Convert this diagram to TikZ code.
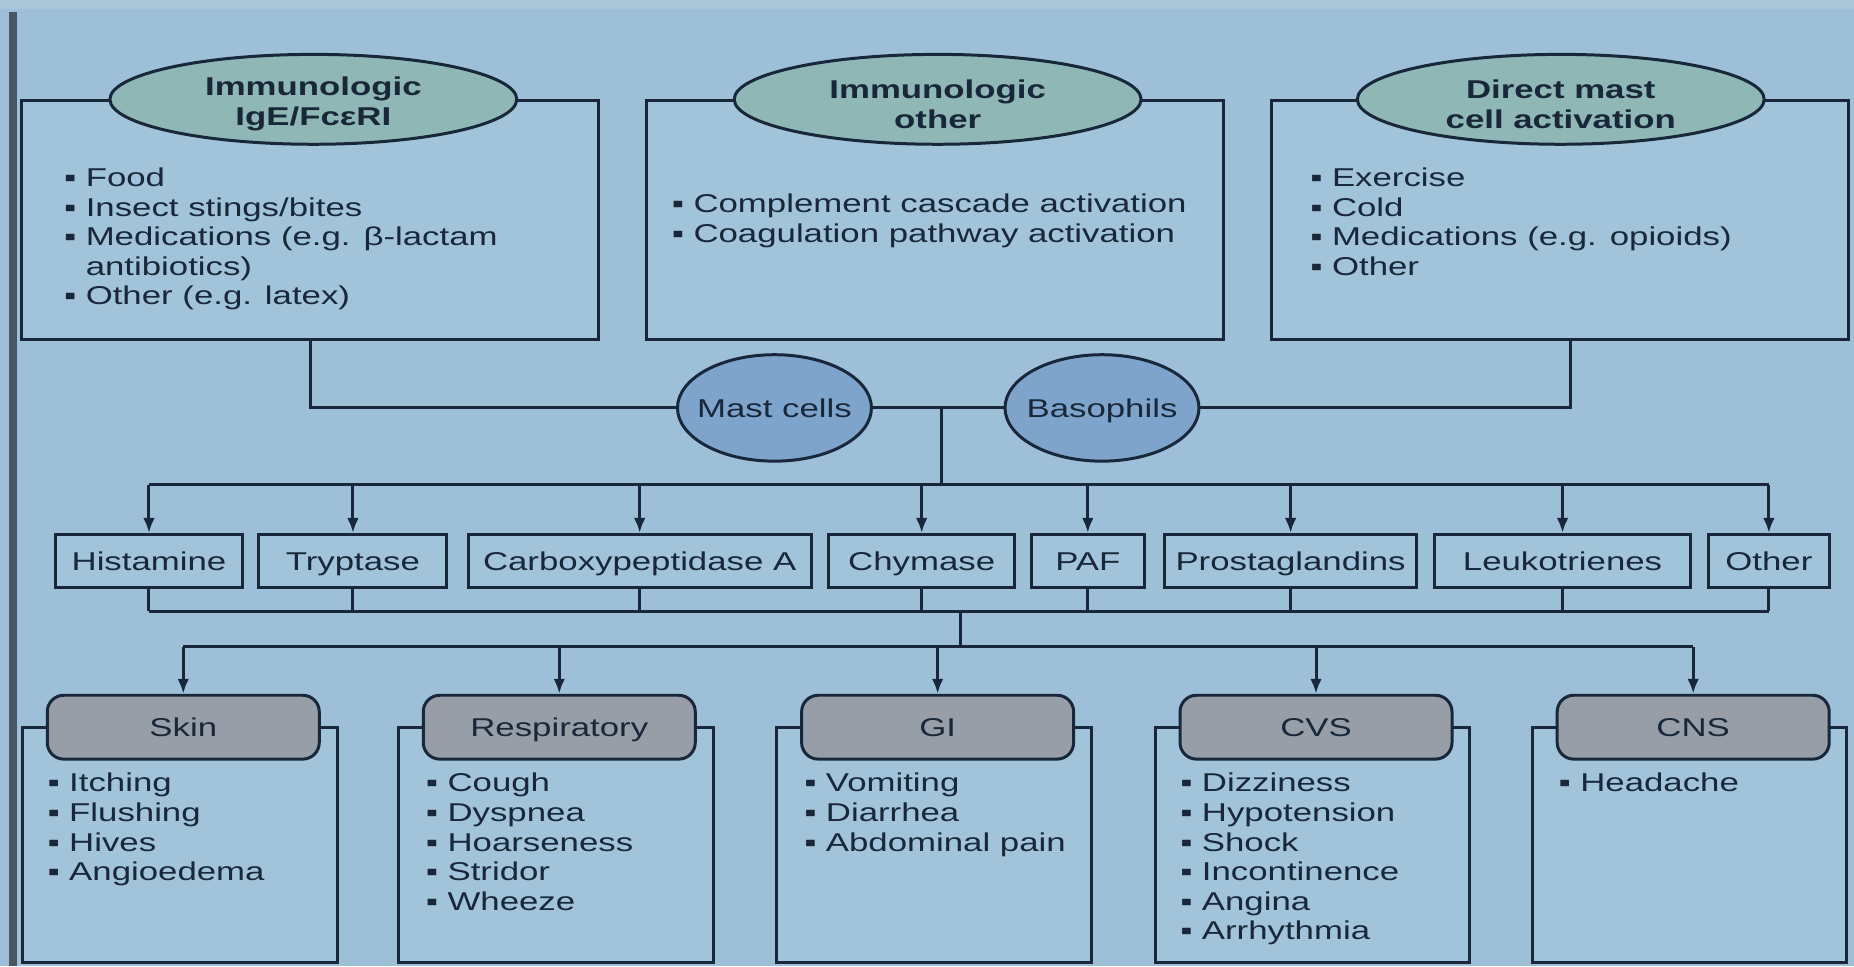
\documentclass[tikz,border=0pt]{standalone}
\usepackage{fontspec}
\setmainfont{Liberation Sans}[FakeStretch=1.35]
\usepackage{xcolor}
\usetikzlibrary{arrows,arrows.meta,positioning,calc,shapes}

\definecolor{bgblue}{RGB}{157,192,216}
\definecolor{topband}{RGB}{170,197,215}
\definecolor{panelblue}{RGB}{162,196,219}
\definecolor{inkdark}{RGB}{24,40,58}
\definecolor{ovalteal}{RGB}{143,183,181}
\definecolor{cellblue}{RGB}{126,164,204}
\definecolor{organgrey}{RGB}{152,158,167}
\definecolor{sidebar}{RGB}{72,86,96}

\newcommand{\dotitem}{\strut\makebox[13pt][l]{▪}}
\newcommand{\dothang}{\strut\makebox[13pt][l]{}}

\tikzset{
  basefont/.style={font=\fontsize{15.5}{17.8}\selectfont},
  inkline/.style={draw=inkdark, line width=1.8pt},
  srcbox/.style={inkline, fill=panelblue, minimum width=12.2cm, minimum height=5.05cm},
  srcoval/.style={ellipse, inkline, fill=ovalteal, minimum width=8.6cm, minimum height=1.9cm,
    inner sep=0pt},
  ovaltext/.style={align=center, text=inkdark, font=\fontsize{15.5}{17.8}\selectfont\bfseries,
    yshift=-0.1cm},
  cell/.style={ellipse, inkline, fill=cellblue, minimum width=4.1cm, minimum height=2.25cm,
    inner sep=0pt},
  celltext/.style={text=inkdark, basefont, text height=11.5pt, text depth=0.5pt},
  medbox/.style={rectangle, inkline, fill=panelblue, minimum height=1.125cm, inner sep=0pt,
    text=inkdark, basefont, text height=11.5pt, text depth=0.5pt},
  organbox/.style={rectangle, inkline, fill=panelblue, minimum width=6.65cm, minimum height=4.975cm},
  organhead/.style={rectangle, rounded corners=0.35cm, inkline, fill=organgrey,
    minimum width=5.75cm, minimum height=1.35cm, text=inkdark, basefont,
    text height=11.5pt, text depth=0.5pt},
  list/.style={anchor=north west, inner sep=0pt, align=left, text=inkdark, basefont},
  wire/.style={draw=inkdark, line width=1.8pt},
  flow/.style={wire, -{Latex[length=9pt,width=7pt]}}
}

\begin{document}
\begin{tikzpicture}[x=0.025cm, y=-0.025cm]
% Background
\useasboundingbox (0,0) rectangle (1568,817);
\fill[bgblue] (0,0) rectangle (1568,817);
\fill[topband] (0,0) rectangle (1568,8);
\fill[sidebar] (8,10) rectangle (14,817);

% Trigger panels
\node[srcbox] (igebox) at (262.5,186) {};
\node[srcbox] (othbox) at (791,186) {};
\node[srcbox] (dirbox) at (1319,186) {};
\node[srcoval, label={[ovaltext]center:Immunologic\\IgE/FcεRI}] (ige) at (265,84) {};
\node[srcoval, label={[ovaltext]center:Immunologic\\other}] (oth) at (793,84) {};
\node[srcoval, label={[ovaltext]center:Direct mast\\cell activation}] (dir) at (1320,84) {};

\node[list] (igelist) at (54,140) {\dotitem Food\\\dotitem Insect stings/bites\\\dotitem Medications (e.g. β-lactam\\\dothang antibiotics)\\\dotitem Other (e.g. latex)};
\node[list] (othlist) at (568,162) {\dotitem Complement cascade activation\\\dotitem Coagulation pathway activation};
\node[list] (dirlist) at (1108,140) {\dotitem Exercise\\\dotitem Cold\\\dotitem Medications (e.g. opioids)\\\dotitem Other};

% Effector cells
\node[cell, label={[celltext]center:Mast cells}] (mast) at (655,345) {};
\node[cell, label={[celltext]center:Basophils}] (baso) at (932,345) {};
\draw[wire] (igebox.south) |- (mast.west);
\draw[wire] (mast.east) -- (baso.west);
\draw[wire] ($(dirbox.south)+(9,0)$) |- (baso.east);

% Mediators
\foreach \n/\x/\w/\lab in {hist/126/158/Histamine, tryp/298.5/159/Tryptase,
    cpa/541/290/Carboxypeptidase A, chym/779.5/157/Chymase, paf/920/96/PAF,
    pgs/1091.5/213/Prostaglandins, lts/1321.5/217/Leukotrienes, moth/1496/102/Other}
  \node[medbox, minimum width=\w*0.025cm] (\n) at (\x,474.5) {\lab};

\coordinate (busa) at (796,410);
\draw[wire] (busa |- mast.east) -- (busa);
\draw[wire] (hist.north |- busa) -- (moth.north |- busa);
\foreach \n in {hist,tryp,cpa,chym,paf,pgs,lts,moth}
  \draw[flow] (\n.north |- busa) -- (\n.north);

\coordinate (busb) at (812,517);
\coordinate (busc) at (812,547);
\foreach \n in {hist,tryp,cpa,chym,paf,pgs,lts,moth}
  \draw[wire] (\n.south) -- (\n.south |- busb);
\draw[wire] (hist.south |- busb) -- (moth.south |- busb);
\draw[wire] (busb) -- (busc);

% Organ systems
\foreach \n/\x/\lab in {skin/155/Skin, resp/473/Respiratory, gi/793/GI, cvs/1113/CVS, cns/1432/CNS}{
  \node[organbox] (\n-body) at (\x-3,714.5) {};
  \node[organhead] (\n) at (\x,615) {\lab};
}
\draw[wire] (skin.north |- busc) -- (cns.north |- busc);
\foreach \n in {skin,resp,gi,cvs,cns}
  \draw[flow] (\n.north |- busc) -- (\n.north);

\node[list] (skinlist) at (40,652) {\dotitem Itching\\\dotitem Flushing\\\dotitem Hives\\\dotitem Angioedema};
\node[list] (resplist) at (360,652) {\dotitem Cough\\\dotitem Dyspnea\\\dotitem Hoarseness\\\dotitem Stridor\\\dotitem Wheeze};
\node[list] (gilist) at (680,652) {\dotitem Vomiting\\\dotitem Diarrhea\\\dotitem Abdominal pain};
\node[list] (cvslist) at (998,652) {\dotitem Dizziness\\\dotitem Hypotension\\\dotitem Shock\\\dotitem Incontinence\\\dotitem Angina\\\dotitem Arrhythmia};
\node[list] (cnslist) at (1318,652) {\dotitem Headache};
\end{tikzpicture}
\end{document}
